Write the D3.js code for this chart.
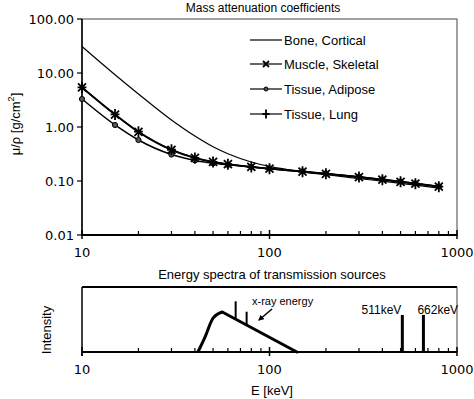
<!DOCTYPE html>
<html>
<head>
<meta charset="utf-8">
<script src="https://cdn.jsdelivr.net/npm/d3@7"></script>
<style>
body { margin: 0; background: #fff; }
text { fill: #000; }
</style>
</head>
<body>
<div id="chart"></div>
<script>
// energies (keV) and mass attenuation values (cm2/g)
const energy = [10, 15, 20, 30, 40, 50, 60, 80, 100, 150, 200, 300, 400, 500, 600, 800];
const bone = [31, 9.3, 4.1, 1.35, 0.68, 0.43, 0.32, 0.225, 0.186, 0.148, 0.131, 0.111, 0.0996, 0.0907, 0.0838, 0.0736];
const muscle = [5.4, 1.7, 0.81, 0.378, 0.268, 0.226, 0.205, 0.182, 0.169, 0.149, 0.136, 0.118, 0.106, 0.0966, 0.0894, 0.0785];
const adipose = [3.3, 1.09, 0.574, 0.309, 0.24, 0.213, 0.199, 0.182, 0.171, 0.151, 0.138, 0.12, 0.107, 0.0979, 0.0906, 0.0795];
const lung = [5.4, 1.71, 0.818, 0.379, 0.268, 0.226, 0.205, 0.181, 0.168, 0.149, 0.136, 0.118, 0.106, 0.0966, 0.0894, 0.0785];
const seriesNames = ["Bone, Cortical", "Muscle, Skeletal", "Tissue, Adipose", "Tissue, Lung"];
const yTicks = [0.01, 0.1, 1, 10, 100];
const xTicks = [10, 100, 1000];

// spectrum (relative intensity): rising edge, then straight fall-off
const riseE = [41.5, 45.3, 50, 56];
const riseI = [0, 0.23, 0.52, 0.615];
const fallE = [56, 140];
const fallI = [0.615, 0];
const xrayLines = [[66, 0.5, 0.78], [75.5, 0.42, 0.62]];
const gammaLines = [[511, 0.57], [662, 0.57]];

const W = 474, H = 399;
const svg = d3.select("#chart").append("svg")
    .attr("width", W).attr("height", H)
    .style("font-family", "Liberation Sans, Arial, sans-serif");

const left = 82, right = 457;
const x = d3.scaleLog().domain([10, 1000]).range([left, right]);
const y = d3.scaleLog().domain([0.01, 100]).range([235, 19]);

const minor = [];
[10, 100].forEach(d => { for (let k = 2; k <= 9; k++) minor.push(d * k); });

////////////////////////
// top plot
////////////////////////
const gTop = svg.append("g");

gTop.append("text").attr("x", 263).attr("y", 12).attr("text-anchor", "middle")
    .style("font-size", "12px").text("Mass attenuation coefficients");

// frame
gTop.append("rect").attr("x", left).attr("y", y(100)).attr("width", right - left).attr("height", y(0.01) - y(100))
    .attr("fill", "none").attr("stroke", "#444").attr("stroke-width", 1);

// y axis
gTop.append("line").attr("x1", left).attr("x2", left).attr("y1", y(100)).attr("y2", y(0.01))
    .attr("stroke", "#000").attr("stroke-width", 1.5);
yTicks.forEach(t => {
    gTop.append("line").attr("x1", left - 5).attr("x2", left).attr("y1", y(t)).attr("y2", y(t))
        .attr("stroke", "#000").attr("stroke-width", 1.2);
    gTop.append("text").attr("x", left - 8).attr("y", y(t) + 5).attr("text-anchor", "end")
        .style("font-family", "DejaVu Sans, Verdana, sans-serif").style("font-size", "13px")
        .text(t.toFixed(2));
});

function xAxis(g, y0) {
    g.append("line").attr("x1", left).attr("x2", right).attr("y1", y0).attr("y2", y0)
        .attr("stroke", "#000").attr("stroke-width", 2);
    minor.forEach(t => {
        g.append("line").attr("x1", x(t)).attr("x2", x(t)).attr("y1", y0 - 4).attr("y2", y0)
            .attr("stroke", "#000").attr("stroke-width", 1.2);
    });
    xTicks.forEach(t => {
        g.append("line").attr("x1", x(t)).attr("x2", x(t)).attr("y1", y0 - 5).attr("y2", y0 + 4)
            .attr("stroke", "#000").attr("stroke-width", 1.5);
        g.append("text").attr("x", x(t)).attr("y", y0 + 22).attr("text-anchor", "middle")
            .style("font-family", "DejaVu Sans, Verdana, sans-serif").style("font-size", "13px")
            .text(t);
    });
}
xAxis(gTop, y(0.01));

// y label
const yl = gTop.append("text").attr("transform", "translate(20,124) rotate(-90)")
    .attr("text-anchor", "middle").style("font-size", "13px");
yl.append("tspan").text("\u03bc/\u03c1 [g/cm");
yl.append("tspan").attr("dy", -6).style("font-size", "9px").text("2");
yl.append("tspan").attr("dy", 6).text("]");

const line = d3.line().x(d => x(d[0])).y(d => y(d[1])).curve(d3.curveMonotoneX);
const zip = arr => energy.map((e, i) => [e, arr[i]]);

gTop.append("path").datum(zip(bone)).attr("d", line).attr("fill", "none")
    .attr("stroke", "#000").attr("stroke-width", 1.2);
gTop.append("path").datum(zip(adipose)).attr("d", line).attr("fill", "none")
    .attr("stroke", "#000").attr("stroke-width", 1.5);
gTop.append("path").datum(zip(lung)).attr("d", line).attr("fill", "none")
    .attr("stroke", "#000").attr("stroke-width", 1.5);
gTop.append("path").datum(zip(muscle)).attr("d", line).attr("fill", "none")
    .attr("stroke", "#000").attr("stroke-width", 1.8);

function crossX(g, cx, cy, s) {
    g.append("path").attr("d", `M${cx - s},${cy - s}L${cx + s},${cy + s}M${cx - s},${cy + s}L${cx + s},${cy - s}`)
        .attr("stroke", "#000").attr("stroke-width", 1.8);
}
function plus(g, cx, cy, s) {
    g.append("path").attr("d", `M${cx},${cy - s}L${cx},${cy + s}M${cx - s * 0.8},${cy}L${cx + s * 0.8},${cy}`)
        .attr("stroke", "#000").attr("stroke-width", 1.8);
}
function dot(g, cx, cy, r) {
    g.append("circle").attr("cx", cx).attr("cy", cy).attr("r", r)
        .attr("fill", "#555").attr("stroke", "#000").attr("stroke-width", 1);
}

zip(adipose).forEach(d => dot(gTop, x(d[0]), y(d[1]), 2.6));
zip(lung).forEach(d => plus(gTop, x(d[0]), y(d[1]), 5.5));
zip(muscle).forEach(d => crossX(gTop, x(d[0]), y(d[1]), 4));

// legend
const legY = [40, 64, 89, 114];
seriesNames.forEach((n, i) => {
    gTop.append("line").attr("x1", 250).attr("x2", 282).attr("y1", legY[i]).attr("y2", legY[i])
        .attr("stroke", "#000").attr("stroke-width", 1.2);
    if (i === 1) crossX(gTop, 266, legY[i], 3);
    if (i === 2) dot(gTop, 266, legY[i], 2);
    if (i === 3) plus(gTop, 266, legY[i], 4.5);
    gTop.append("text").attr("x", 284).attr("y", legY[i] + 5).style("font-size", "13px").text(n);
});

////////////////////////
// bottom plot
////////////////////////
const gBot = svg.append("g");
const yb = d3.scaleLinear().domain([0, 1]).range([352, 287]);

gBot.append("text").attr("x", 272).attr("y", 279).attr("text-anchor", "middle")
    .style("font-size", "13px").text("Energy spectra of transmission sources");

gBot.append("line").attr("x1", left).attr("x2", right).attr("y1", 287).attr("y2", 287)
    .attr("stroke", "#000").attr("stroke-width", 2);
gBot.append("line").attr("x1", right).attr("x2", right).attr("y1", 287).attr("y2", 352)
    .attr("stroke", "#444").attr("stroke-width", 1);
gBot.append("line").attr("x1", left).attr("x2", left).attr("y1", 287).attr("y2", 356)
    .attr("stroke", "#000").attr("stroke-width", 1.5);
xAxis(gBot, 352);

gBot.append("text").attr("transform", "translate(51,330) rotate(-90)")
    .attr("text-anchor", "middle").style("font-size", "13px").text("Intensity");
gBot.append("text").attr("x", 272).attr("y", 395).attr("text-anchor", "middle")
    .style("font-size", "13px").text("E [keV]");

const riseLine = d3.line().x(d => x(d[0])).y(d => yb(d[1])).curve(d3.curveMonotoneX);
const fallLine = d3.line().x(d => x(d[0])).y(d => yb(d[1]));
gBot.append("path").datum(riseE.map((e, i) => [e, riseI[i]])).attr("d", riseLine)
    .attr("fill", "none").attr("stroke", "#000").attr("stroke-width", 3).attr("stroke-linejoin", "round");
gBot.append("path").datum(fallE.map((e, i) => [e, fallI[i]])).attr("d", fallLine)
    .attr("fill", "none").attr("stroke", "#000").attr("stroke-width", 3).attr("stroke-linecap", "round");

xrayLines.forEach(d => {
    gBot.append("line").attr("x1", x(d[0])).attr("x2", x(d[0])).attr("y1", yb(d[1])).attr("y2", yb(d[2]))
        .attr("stroke", "#000").attr("stroke-width", 2);
});
gammaLines.forEach((d, i) => {
    gBot.append("line").attr("x1", x(d[0])).attr("x2", x(d[0])).attr("y1", yb(0)).attr("y2", yb(d[1]))
        .attr("stroke", "#000").attr("stroke-width", 3);
    gBot.append("text").attr("x", x(d[0]) + (i === 0 ? -1 : -6)).attr("y", yb(d[1]) - 1)
        .attr("text-anchor", i === 0 ? "end" : "start").style("font-size", "12px")
        .text(d[0] + "keV");
});

gBot.append("text").attr("x", 252).attr("y", 305).style("font-size", "11px").text("x-ray energy");
gBot.append("defs").append("marker").attr("id", "arr").attr("viewBox", "0 0 10 10")
    .attr("refX", 8).attr("refY", 5).attr("markerWidth", 4).attr("markerHeight", 4).attr("orient", "auto")
    .append("path").attr("d", "M0,0L10,5L0,10z").attr("fill", "#000");
gBot.append("line").attr("x1", 272).attr("y1", 309).attr("x2", 259).attr("y2", 320)
    .attr("stroke", "#000").attr("stroke-width", 1.5).attr("marker-end", "url(#arr)");
</script>
</body>
</html>
